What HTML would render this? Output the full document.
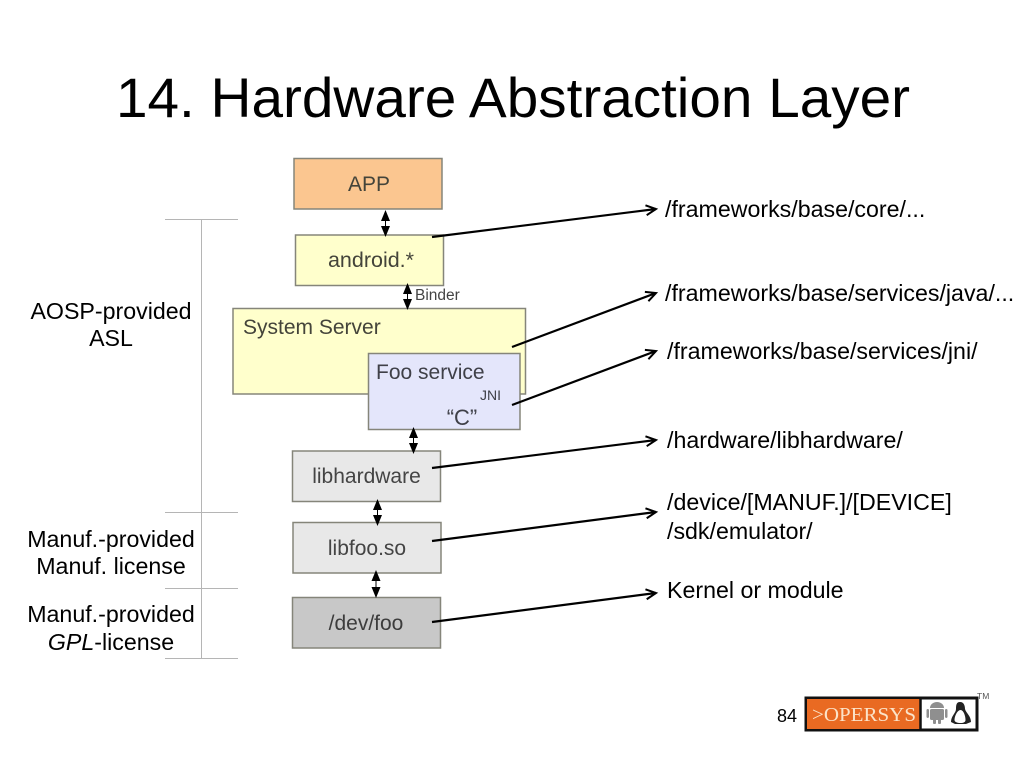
<!DOCTYPE html>
<html><head><meta charset="utf-8"><style>
html,body{margin:0;padding:0;background:#fff}
svg{display:block;filter:blur(0.35px)}
text{font-family:"Liberation Sans",sans-serif}
.b{fill:#000;font-size:23.2px}
.d{fill:#44443a;font-size:21px}
.box{stroke:#85857a;stroke-width:1.5}
</style></head><body>
<svg width="1024" height="768" viewBox="0 0 1024 768" xmlns="http://www.w3.org/2000/svg">
<defs>
<marker id="a" markerWidth="14" markerHeight="14" refX="11" refY="6" orient="auto" markerUnits="userSpaceOnUse"><path d="M1 1 L11 6 L1 11" fill="none" stroke="#000" stroke-width="2"/></marker>
</defs>
<rect width="1024" height="768" fill="#fff"/>
<text x="513" y="117" text-anchor="middle" font-size="56" fill="#000" textLength="794" lengthAdjust="spacingAndGlyphs">14. Hardware Abstraction Layer</text>

<g stroke="#b5b5b5" stroke-width="1" fill="none">
<path d="M165 219.500H238M201.500 219V658M165 512.500H238M165 588.500H238M165 658.500H238"/>
</g>

<rect class="box" x="294" y="158.500" width="148" height="50.500" fill="#fbc690"/>
<rect class="box" x="295.500" y="235" width="148" height="50.500" fill="#ffffcc"/>
<rect class="box" x="233" y="308.500" width="292.500" height="85.500" fill="#ffffcc"/>
<rect class="box" x="368.500" y="353.500" width="151.500" height="76" fill="#e4e6fb"/>
<rect class="box" x="292.500" y="451" width="148" height="50.500" fill="#e8e8e8"/>
<rect class="box" x="293" y="522.500" width="148" height="50.500" fill="#e8e8e8"/>
<rect class="box" x="292.500" y="597.500" width="148" height="50.500" fill="#c8c8c8"/>

<text x="369" y="191" text-anchor="middle" class="d">APP</text>
<text x="371" y="267" text-anchor="middle" class="d" style="font-size:21.5px">android.*</text>
<text x="243" y="334" class="d">System Server</text>
<text x="376" y="379" class="d" style="fill:#3f4048">Foo service</text>
<text x="480" y="400" font-size="14" fill="#3f4048">JNI</text>
<text x="462" y="425" text-anchor="middle" class="d" style="font-size:22px;fill:#3f4048">“C”</text>
<text x="366.500" y="483" text-anchor="middle" class="d" style="fill:#444">libhardware</text>
<text x="367" y="555" text-anchor="middle" class="d" style="fill:#444">libfoo.so</text>
<text x="366" y="630" text-anchor="middle" class="d" style="fill:#3c3c3c">/dev/foo</text>
<text x="415" y="300" font-size="15.500" fill="#444">Binder</text>

<g fill="#000" stroke="#000" stroke-width="1">
<path d="M385.500 212V235"/><path d="M385.500 210l-4.500 11h9zM385.500 237l-4.500 -11h9z" stroke="none"/>
<path d="M407.500 285V308"/><path d="M407.500 283l-4.500 11h9zM407.500 310l-4.500 -11h9z" stroke="none"/>
<path d="M413.500 428V451"/><path d="M413.500 427l-4.500 11h9zM413.500 454l-4.500 -11h9z" stroke="none"/>
<path d="M377.500 500V522"/><path d="M377.500 499l-4.500 11h9zM377.500 526l-4.500 -11h9z" stroke="none"/>
<path d="M376 572V597"/><path d="M376 570l-4.500 11h9zM376 598l-4.500 -11h9z" stroke="none"/>
</g>

<g stroke="#000" stroke-width="2.200" fill="none">
<path d="M432 237L656 209" marker-end="url(#a)"/>
<path d="M512 347L656 293" marker-end="url(#a)"/>
<path d="M512 405L656 351" marker-end="url(#a)"/>
<path d="M432 468L656 440" marker-end="url(#a)"/>
<path d="M432 541L656 512" marker-end="url(#a)"/>
<path d="M432 622L656 593" marker-end="url(#a)"/>
</g>

<g>
<text class="b" x="665" y="217">/frameworks/base/core/...</text>
<text class="b" x="665" y="301">/frameworks/base/services/java/...</text>
<text class="b" x="667" y="359">/frameworks/base/services/jni/</text>
<text class="b" x="667" y="448">/hardware/libhardware/</text>
<text class="b" x="667" y="510">/device/[MANUF.]/[DEVICE]</text>
<text class="b" x="667" y="539">/sdk/emulator/</text>
<text class="b" x="667" y="598">Kernel or module</text>
<text class="b" x="111" y="319" text-anchor="middle">AOSP-provided</text>
<text class="b" x="111" y="346" text-anchor="middle">ASL</text>
<text class="b" x="111" y="547" text-anchor="middle">Manuf.-provided</text>
<text class="b" x="111" y="574" text-anchor="middle">Manuf. license</text>
<text class="b" x="111" y="622" text-anchor="middle">Manuf.-provided</text>
<text class="b" x="111" y="650" text-anchor="middle"><tspan font-style="italic">GPL</tspan>-license</text>
</g>

<text x="777" y="722" font-size="18" fill="#000">84</text>
<rect x="806" y="698" width="171" height="32" fill="#fff" stroke="#111" stroke-width="3"/>
<rect x="807" y="699" width="113" height="30" fill="#e96a22"/>
<path d="M920.500 698V730" stroke="#111" stroke-width="2.500"/>
<text x="812" y="721" fill="#fbe3c8" font-size="20" style="font-family:'Liberation Serif',serif" textLength="104" lengthAdjust="spacingAndGlyphs">&gt;OPERSYS</text>
<g fill="#8f8f8f"><path d="M930 708a7 6 0 0 1 14 0z"/><rect x="930" y="709" width="14" height="11" rx="1.500"/><rect x="926.500" y="709" width="2.500" height="9" rx="1.200"/><rect x="945" y="709" width="2.500" height="9" rx="1.200"/><rect x="933" y="719" width="3" height="5" rx="1"/><rect x="938" y="719" width="3" height="5" rx="1"/></g>
<path d="M960 702c-4 0-4 4-4 7c0 4-5 7-5 13l4 2h11l5-2c0-6-5-9-6-13c0-3-1-7-5-7z" fill="#222"/>
<path d="M960.500 710c-3 0-6 6-6 10c0 2 3 3 6 3s5-1 5-3c0-4-2-10-5-10z" fill="#fff"/>
<text x="977" y="699" font-size="8.500" fill="#555">TM</text>
</svg>
</body></html>
